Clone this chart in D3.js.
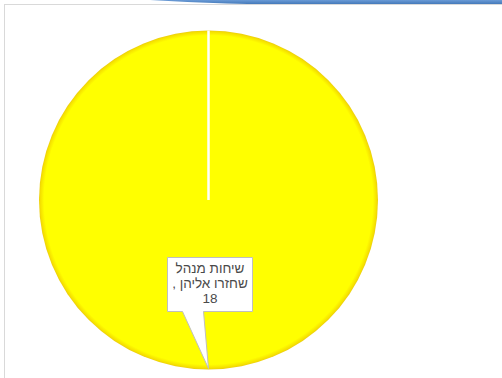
<!DOCTYPE html>
<html>
<head>
<meta charset="utf-8">
<script src="https://cdn.jsdelivr.net/npm/d3@7"></script>
<style>
  html, body { margin: 0; padding: 0; background: #fff; }
  svg { display: block; }
</style>
</head>
<body>
<svg id="chart" width="502" height="378"></svg>
<script>
// Pie data: one category with its count
const categories = ["שיחות מנהל שחזרו אליהן"];
const values = [18];
// Label lines as shown in the data callout (category name, separator, value)
const labelLines = ["שיחות מנהל", "שחזרו אליהן ,", String(values[0])];

const W = 502, H = 378;
const svg = d3.select("#chart");
const defs = svg.append("defs");

// Header band at the top of the slide
const headerGrad = defs.append("linearGradient")
  .attr("id", "hdr").attr("x1", 0).attr("y1", 0).attr("x2", 0).attr("y2", 1);
headerGrad.append("stop").attr("offset", "0%").attr("stop-color", "#6A9BD6");
headerGrad.append("stop").attr("offset", "100%").attr("stop-color", "#3F74B5");
svg.append("path")
  .attr("d", "M150,0 Q230,5 330,4.5 L502,4.5 L502,0 Z")
  .attr("fill", "url(#hdr)");

// Chart area frame
svg.append("rect")
  .attr("x", 4.5).attr("y", 4.5)
  .attr("width", W + 20).attr("height", H + 20)
  .attr("fill", "#fff")
  .attr("stroke", "#D9D9D9").attr("stroke-width", 1);

// Pie geometry
const cx = 208.5, cy = 200, R = 169.5;
const g = svg.append("g").attr("transform", `translate(${cx},${cy})`);

// Soft darker rim on the slice
const rim = defs.append("radialGradient")
  .attr("id", "rim").attr("gradientUnits", "userSpaceOnUse")
  .attr("cx", 0).attr("cy", 0).attr("r", R);
rim.append("stop").attr("offset", "0%").attr("stop-color", "#FFFF00");
rim.append("stop").attr("offset", "97%").attr("stop-color", "#FFFF00");
rim.append("stop").attr("offset", "99.2%").attr("stop-color", "#F5E000");
rim.append("stop").attr("offset", "100%").attr("stop-color", "#EACB10");

const pie = d3.pie().sort(null).value(d => d);
const arcs = pie(values);
const arc = d3.arc().innerRadius(0).outerRadius(R);

g.selectAll("path.slice")
  .data(arcs)
  .enter().append("path")
  .attr("class", "slice")
  .attr("d", arc)
  .attr("fill", "url(#rim)");

// Slice boundary edges (white), from the center out to each start angle
const edgeAt = a => [Math.sin(a) * R, -Math.cos(a) * R];
g.selectAll("line.edge")
  .data(arcs)
  .enter().append("line")
  .attr("class", "edge")
  .attr("x1", 0).attr("y1", 0)
  .attr("x2", d => edgeAt(d.startAngle)[0])
  .attr("y2", d => edgeAt(d.startAngle)[1])
  .attr("stroke", "#fff").attr("stroke-width", 2.5);

// Data callout for the slice, pointing at the bottom of the pie
const tip = [cx, cy + R - 1];
const bx0 = 167.5, bx1 = 252.5, by0 = 257.5, by1 = 311.5;
const px0 = 182.5, px1 = 203.5;
const callout = d3.path();
callout.moveTo(bx0, by0);
callout.lineTo(bx1, by0);
callout.lineTo(bx1, by1);
callout.lineTo(px1, by1);
callout.lineTo(tip[0], tip[1]);
callout.lineTo(px0, by1);
callout.lineTo(bx0, by1);
callout.closePath();
svg.append("path")
  .attr("d", callout.toString())
  .attr("fill", "#fff")
  .attr("stroke", "#BFBFBF").attr("stroke-width", 1);

const tx = (bx0 + bx1) / 2;
svg.append("g")
  .selectAll("text")
  .data(labelLines)
  .enter().append("text")
  .attr("x", tx)
  .attr("y", (d, i) => 273 + i * 15)
  .attr("text-anchor", "middle")
  .attr("direction", "rtl")
  .style("unicode-bidi", "embed")
  .attr("font-family", "Liberation Sans, Arial, sans-serif")
  .attr("font-size", 13.5)
  .attr("fill", "#4a4a4a")
  .text(d => d);
</script>
</body>
</html>
